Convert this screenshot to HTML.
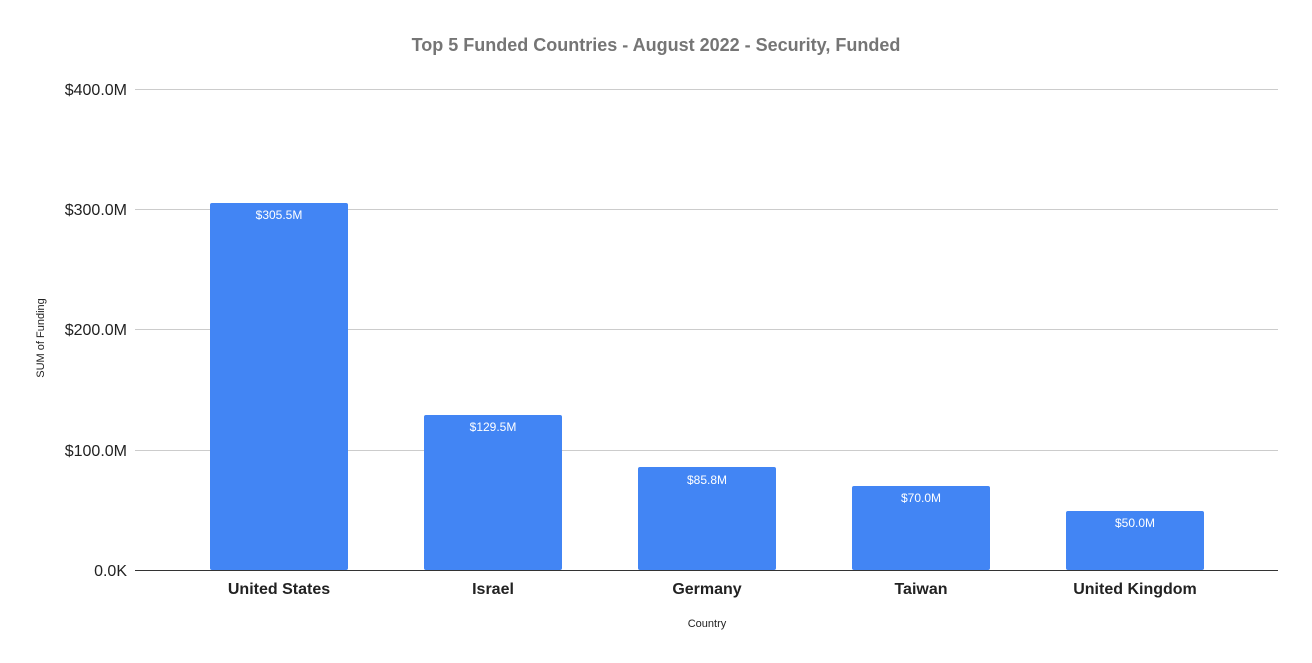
<!DOCTYPE html>
<html><head><meta charset="utf-8"><style>body{margin:0;background:#fff}svg{display:block}</style></head>
<body>
<svg width="1312" height="663" xmlns="http://www.w3.org/2000/svg" font-family="Liberation Sans, Arial, sans-serif">
<rect width="1312" height="663" fill="#fff"/>
<text x="656" y="51" text-anchor="middle" font-size="18" font-weight="bold" fill="#757575">Top 5 Funded Countries - August 2022 - Security, Funded</text>
<g stroke="#cccccc" stroke-width="1">
<line x1="135" y1="89.5" x2="1278" y2="89.5"/>
<line x1="135" y1="209.5" x2="1278" y2="209.5"/>
<line x1="135" y1="329.5" x2="1278" y2="329.5"/>
<line x1="135" y1="450.5" x2="1278" y2="450.5"/>
</g>
<g font-size="16" fill="#222" text-anchor="end">
<text x="127" y="95">$400.0M</text>
<text x="127" y="215">$300.0M</text>
<text x="127" y="335">$200.0M</text>
<text x="127" y="456">$100.0M</text>
<text x="127" y="576">0.0K</text>
</g>
<text transform="translate(44,338) rotate(-90)" text-anchor="middle" font-size="11" fill="#222">SUM of Funding</text>
<g fill="#4285f4">
<rect x="210" y="203" width="138" height="367" rx="2"/>
<rect x="424" y="415" width="138" height="155" rx="2"/>
<rect x="638" y="467" width="138" height="103" rx="2"/>
<rect x="852" y="486" width="138" height="84" rx="2"/>
<rect x="1066" y="511" width="138" height="59" rx="2"/>
</g>
<line x1="135" y1="570.5" x2="1278" y2="570.5" stroke="#333" stroke-width="1"/>
<g font-size="12" fill="#fff" text-anchor="middle">
<text x="279" y="219">$305.5M</text>
<text x="493" y="431">$129.5M</text>
<text x="707" y="484">$85.8M</text>
<text x="921" y="502">$70.0M</text>
<text x="1135" y="527">$50.0M</text>
</g>
<g font-size="16" font-weight="bold" fill="#222" text-anchor="middle">
<text x="279" y="594">United States</text>
<text x="493" y="594">Israel</text>
<text x="707" y="594">Germany</text>
<text x="921" y="594">Taiwan</text>
<text x="1135" y="594">United Kingdom</text>
</g>
<text x="707" y="627" text-anchor="middle" font-size="11" fill="#222">Country</text>
</svg>
</body></html>
